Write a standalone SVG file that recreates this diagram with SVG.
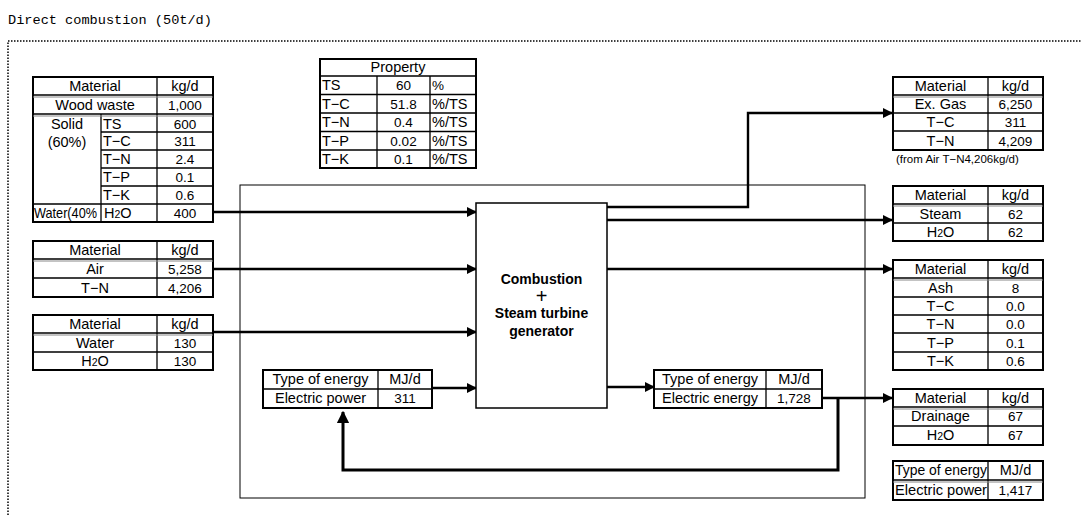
<svg xmlns="http://www.w3.org/2000/svg" width="1082" height="515" viewBox="0 0 1082 515">
<defs>
<marker id="ah" viewBox="0 0 10 10" refX="9" refY="5" markerWidth="4.2" markerHeight="4.2" orient="auto" markerUnits="strokeWidth">
<path d="M0,0 L10,5 L0,10 z" fill="#000"/>
</marker>
<style>
text{font-family:"Liberation Sans",Arial,sans-serif;font-size:14.5px;fill:#000}
.c{text-anchor:middle}
.n{font-size:13.5px}
.o{fill:#fff;stroke:#000;stroke-width:2}
.l{stroke:#000;stroke-width:1.3;fill:none}
.d{stroke:#888;stroke-width:1;fill:none}
.title{font-family:"Liberation Mono","DejaVu Sans Mono",monospace;font-size:13.6px}
.sm{font-size:11.5px}
.b{font-weight:bold;font-size:14px}
.plus{font-size:20px}
.ar{stroke:#000;stroke-width:2.4;fill:none;marker-end:url(#ah)}
</style>
</defs>
<rect width="1082" height="515" fill="#fff"/>
<text class="title" x="8" y="24">Direct combustion (50t/d)</text>
<path d="M8,515 V41 H1082" stroke="#000" stroke-width="1.5" stroke-dasharray="1.5,1.5" fill="none"/>

<g id="outer"><rect x="240" y="185" width="625" height="313" fill="none" stroke="#000" stroke-width="1"/></g>

<g id="connectors">
<path class="ar" d="M213,212 H476"/>
<path class="ar" d="M213,269 H476"/>
<path class="ar" d="M213,332 H476"/>
<path class="ar" d="M432,388 H476"/>
<path class="ar" d="M607,207 H748 V113 H892"/>
<path class="ar" d="M607,220 H892"/>
<path class="ar" d="M607,269 H892"/>
<path class="ar" d="M607,387 H654"/>
<path class="ar" d="M822,398 H892"/>
<path d="M838,398 V470 H343 V412" stroke="#000" stroke-width="3" fill="none" marker-end="url(#ah)"/>
</g>

<g id="process">
<rect x="476" y="203" width="131" height="205" fill="#fff" stroke="#000" stroke-width="1.5"/>
<text class="c b" x="541.5" y="284">Combustion</text>
<text class="c plus" x="541.5" y="303">+</text>
<text class="c b" x="541.5" y="318">Steam turbine</text>
<text class="c b" x="541.5" y="336">generator</text>
</g>

<g id="t_wood">
<rect class="o" x="33" y="77" width="180" height="145"/>
<path class="l" d="M33,95 H213 M33,114 H213 M101,132 H213 M101,150 H213 M101,168 H213 M101,186 H213 M33,204 H213 M157,77 V222 M101,114 V222"/>
<path class="d" d="M33,97 H213 M33,116 H213"/>
<text class="c" x="95" y="91">Material</text><text class="c" x="185" y="91">kg/d</text>
<text class="c" x="95" y="110">Wood waste</text><text class="c n" x="185" y="110">1,000</text>
<text class="c" x="67" y="129">Solid</text><text class="c" x="67" y="147">(60%)</text>
<text x="103" y="129">TS</text><text class="c n" x="185" y="129">600</text>
<text x="103" y="146">T−C</text><text class="c n" x="185" y="146">311</text>
<text x="103" y="164">T−N</text><text class="c n" x="185" y="164">2.4</text>
<text x="103" y="182">T−P</text><text class="c n" x="185" y="182">0.1</text>
<text x="103" y="200">T−K</text><text class="c n" x="185" y="200">0.6</text>
<text x="34" y="218" textLength="63" lengthAdjust="spacingAndGlyphs">Water(40%</text>
<text x="104" y="218">H<tspan font-size="10.5">2</tspan>O</text><text class="c n" x="185" y="218">400</text>
</g>

<g id="t_air">
<rect class="o" x="33" y="241" width="180" height="56"/>
<path class="l" d="M33,259 H213 M33,278 H213 M157,241 V297"/>
<path class="d" d="M33,261 H213"/>
<text class="c" x="95" y="255">Material</text><text class="c" x="185" y="255">kg/d</text>
<text class="c" x="95" y="274">Air</text><text class="c n" x="185" y="274">5,258</text>
<text class="c" x="95" y="293">T−N</text><text class="c n" x="185" y="293">4,206</text>
</g>

<g id="t_water">
<rect class="o" x="33" y="315" width="180" height="55"/>
<path class="l" d="M33,333 H213 M33,352 H213 M157,315 V370"/>
<path class="d" d="M33,335 H213"/>
<text class="c" x="95" y="329">Material</text><text class="c" x="185" y="329">kg/d</text>
<text class="c" x="95" y="348">Water</text><text class="c n" x="185" y="348">130</text>
<text class="c" x="95" y="366">H<tspan font-size="10.5">2</tspan>O</text><text class="c n" x="185" y="366">130</text>
</g>

<g id="t_property">
<rect class="o" x="320" y="59" width="156" height="109"/>
<path class="l" d="M320,76 H476 M320,94.5 H476 M320,113 H476 M320,131.5 H476 M320,150 H476 M377,76 V168 M430,76 V168"/>
<text class="c" x="398" y="72">Property</text>
<text x="322" y="90">TS</text><text class="c n" x="403.5" y="90">60</text><text x="432" y="90" class="n">%</text>
<text x="322" y="109">T−C</text><text class="c n" x="403.5" y="109">51.8</text><text x="432" y="109">%/TS</text>
<text x="322" y="127">T−N</text><text class="c n" x="403.5" y="127">0.4</text><text x="432" y="127">%/TS</text>
<text x="322" y="146">T−P</text><text class="c n" x="403.5" y="146">0.02</text><text x="432" y="146">%/TS</text>
<text x="322" y="164">T−K</text><text class="c n" x="403.5" y="164">0.1</text><text x="432" y="164">%/TS</text>
</g>

<g id="t_power_in">
<rect class="o" x="263" y="370" width="169" height="38"/>
<path class="l" d="M263,389 H432 M378,370 V408"/>
<text class="c" x="320.5" y="384">Type of energy</text><text class="c" x="405" y="384">MJ/d</text>
<text class="c" x="320.5" y="403">Electric power</text><text class="c n" x="405" y="403">311</text>
</g>

<g id="t_power_out">
<rect class="o" x="654" y="370" width="168" height="38"/>
<path class="l" d="M654,389 H822 M766,370 V408"/>
<text class="c" x="710" y="384">Type of energy</text><text class="c" x="794" y="384">MJ/d</text>
<text class="c" x="710" y="403">Electric energy</text><text class="c n" x="794" y="403">1,728</text>
</g>

<g id="t_exgas">
<rect class="o" x="893" y="77" width="150" height="73"/>
<path class="l" d="M893,95 H1043 M893,113 H1043 M893,131 H1043 M988,77 V150"/>
<path class="d" d="M893,97 H1043"/>
<text class="c" x="940.5" y="91">Material</text><text class="c" x="1015.5" y="91">kg/d</text>
<text class="c" x="940.5" y="109">Ex. Gas</text><text class="c n" x="1015.5" y="109">6,250</text>
<text class="c" x="940.5" y="127">T−C</text><text class="c n" x="1015.5" y="127">311</text>
<text class="c" x="940.5" y="146">T−N</text><text class="c n" x="1015.5" y="146">4,209</text>
<text class="sm" x="896" y="163">(from Air T−N4,206kg/d)</text>
</g>

<g id="t_steam">
<rect class="o" x="893" y="186" width="150" height="55"/>
<path class="l" d="M893,204 H1043 M893,223 H1043 M988,186 V241"/>
<path class="d" d="M893,206 H1043"/>
<text class="c" x="940.5" y="200">Material</text><text class="c" x="1015.5" y="200">kg/d</text>
<text class="c" x="940.5" y="219">Steam</text><text class="c n" x="1015.5" y="219">62</text>
<text class="c" x="940.5" y="237">H<tspan font-size="10.5">2</tspan>O</text><text class="c n" x="1015.5" y="237">62</text>
</g>

<g id="t_ash">
<rect class="o" x="893" y="260" width="150" height="110"/>
<path class="l" d="M893,278 H1043 M893,297 H1043 M893,315 H1043 M893,333 H1043 M893,352 H1043 M988,260 V370"/>
<path class="d" d="M893,280 H1043"/>
<text class="c" x="940.5" y="274">Material</text><text class="c" x="1015.5" y="274">kg/d</text>
<text class="c" x="940.5" y="293">Ash</text><text class="c n" x="1015.5" y="293">8</text>
<text class="c" x="940.5" y="311">T−C</text><text class="c n" x="1015.5" y="311">0.0</text>
<text class="c" x="940.5" y="329">T−N</text><text class="c n" x="1015.5" y="329">0.0</text>
<text class="c" x="940.5" y="348">T−P</text><text class="c n" x="1015.5" y="348">0.1</text>
<text class="c" x="940.5" y="366">T−K</text><text class="c n" x="1015.5" y="366">0.6</text>
</g>

<g id="t_drain">
<rect class="o" x="893" y="389" width="150" height="56"/>
<path class="l" d="M893,407 H1043 M893,426 H1043 M988,389 V445"/>
<path class="d" d="M893,409 H1043"/>
<text class="c" x="940.5" y="403">Material</text><text class="c" x="1015.5" y="403">kg/d</text>
<text class="c" x="940.5" y="421">Drainage</text><text class="c n" x="1015.5" y="421">67</text>
<text class="c" x="940.5" y="440">H<tspan font-size="10.5">2</tspan>O</text><text class="c n" x="1015.5" y="440">67</text>
</g>

<g id="t_power_net">
<rect class="o" x="893" y="461" width="150" height="39"/>
<path class="l" d="M893,480 H1043 M988,461 V500"/>
<path class="d" d="M893,482 H1043"/>
<text x="895" y="475" textLength="92" lengthAdjust="spacingAndGlyphs">Type of energy</text><text class="c" x="1015.5" y="475">MJ/d</text>
<text x="895" y="495" textLength="92" lengthAdjust="spacingAndGlyphs">Electric power</text><text class="c n" x="1015.5" y="495">1,417</text>
</g>
</svg>
